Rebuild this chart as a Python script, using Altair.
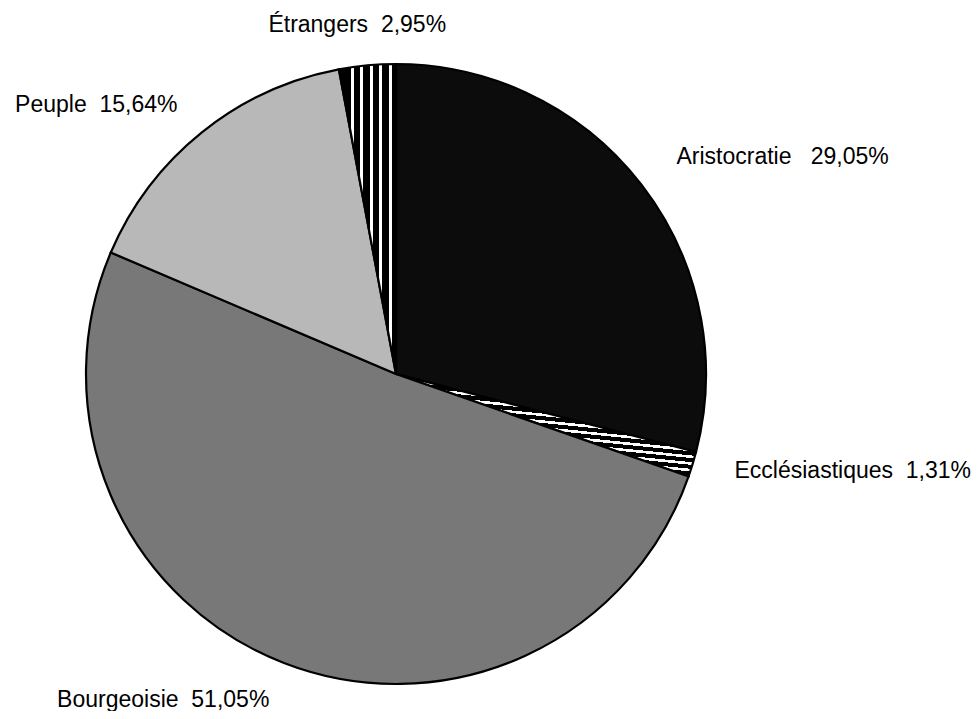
import altair as alt
import pandas as pd

# ---- data ----
categories = ["Aristocratie", "Ecclésiastiques", "Bourgeoisie", "Peuple", "Étrangers"]
shares = [29.05, 1.31, 51.05, 15.64, 2.95]
share_text = ["29,05%", "1,31%", "51,05%", "15,64%", "2,95%"]
name_gap = [3, 2, 2, 2, 2]  # spaces between name and percentage

df = pd.DataFrame({
    "cat": categories,
    "share": shares,
    "order": list(range(len(categories))),
    "label": [c + "\u00a0" * g + s for c, g, s in zip(categories, name_gap, share_text)],
})

# ---- styling ----
CX, CY, R = 388, 366, 310
FONT = "Liberation Sans"
FSIZE = 23


def stripes(first, period, width, n, bg, fg):
    stops = [{"offset": 0, "color": bg}]
    for k in range(n):
        a = first + k * period
        b = a + width
        if a < 0 or b > 1:
            continue
        stops += [
            {"offset": round(a, 4), "color": bg},
            {"offset": round(a, 4), "color": fg},
            {"offset": round(b, 4), "color": fg},
            {"offset": round(b, 4), "color": bg},
        ]
    stops.append({"offset": 1, "color": bg})
    return stops


fills = {
    "Aristocratie": "#0c0c0c",
    "Ecclésiastiques": {
        "gradient": "linear",
        "x1": 0.294, "y1": 0, "x2": 0, "y2": 1,
        "stops": stripes(0.0, 0.0605, 0.024, 17, "#000000", "#ffffff"),
    },
    "Bourgeoisie": "#787878",
    "Peuple": "#b8b8b8",
    "Étrangers": {
        "gradient": "linear",
        "x1": 0, "y1": 0, "x2": 1, "y2": 0,
        "stops": stripes(0.205, 0.166, 0.058, 5, "#000000", "#ffffff"),
    },
}

label_style = {
    "Aristocratie": dict(align="left", radius=352, dx=2, dy=5),
    "Ecclésiastiques": dict(align="left", radius=357, dx=-3, dy=0),
    "Bourgeoisie": dict(align="right", radius=356, dx=2, dy=1),
    "Peuple": dict(align="right", radius=341, dx=-5, dy=4),
    "Étrangers": dict(align="center", radius=343, dx=-7, dy=0),
}

theta_scale = alt.Scale(domain=[0, 100], range=[0, 6.283185307179586])

base = alt.Chart(df).transform_window(
    end="sum(share)", sort=[alt.SortField("order")], frame=[None, 0]
).transform_calculate(
    start="datum.end - datum.share",
    mid="datum.end - datum.share / 2",
)

layers = []
for cat in categories:
    layers.append(
        base.transform_filter(alt.datum.cat == cat)
        .mark_arc(radius=R, fill=fills[cat], stroke="black", strokeWidth=2.2)
        .encode(
            theta=alt.Theta("start:Q", scale=theta_scale),
            theta2="end:Q",
            x=alt.value(CX),
            y=alt.value(CY),
        )
    )

for cat in categories:
    st = label_style[cat]
    layers.append(
        base.transform_filter(alt.datum.cat == cat)
        .mark_text(
            align=st["align"], baseline="alphabetic", radius=st["radius"],
            dx=st["dx"], dy=st["dy"], font=FONT, fontSize=FSIZE, color="black",
        )
        .encode(
            theta=alt.Theta("mid:Q", scale=theta_scale),
            text="label:N",
            x=alt.value(CX),
            y=alt.value(CY),
        )
    )

chart = alt.layer(*layers).properties(
    width=964, height=703, padding=0, autosize="none", background="white"
).configure_view(stroke=None)

chart.save("out.html", embed_options={"renderer": "svg", "actions": False})
